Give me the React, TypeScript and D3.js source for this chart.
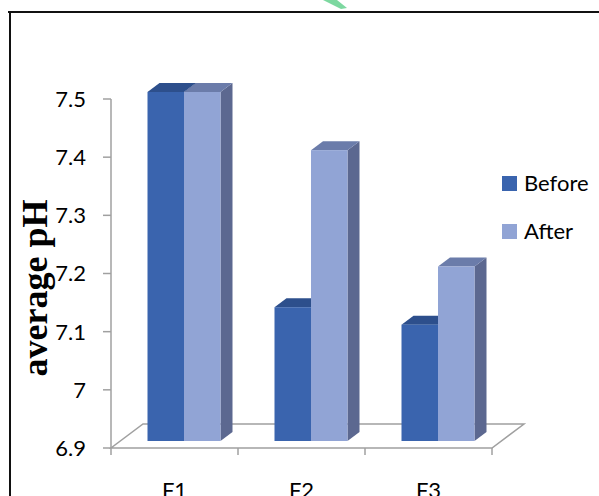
import React from 'react';
import * as d3 from 'd3';

// values
const categories = ['F1', 'F2', 'F3'];
const seriesNames = ['Before', 'After'];
const beforeValues = [7.5, 7.13, 7.1];
const afterValues = [7.5, 7.4, 7.2];
const yTickValues = [6.9, 7, 7.1, 7.2, 7.3, 7.4, 7.5];
const yTickLabels = ['6.9', '7', '7.1', '7.2', '7.3', '7.4', '7.5'];

const W = 599;
const H = 496;

// front plane of the 3D plot
const plot = { left: 111, right: 492, top: 99, bottom: 448 };
// floor depth (back edge offset)
const floorDepth = { dx: 32, dy: -24 };
// bars sit a bit behind the front edge
const barShift = { dx: 9.5, dy: -7 };
// the bar's own depth
const barDepth = { dx: 12, dy: -9 };
const barWidth = 36.5;

const colors = {
  before: { front: '#3A64AE', top: '#2D4F8C', side: '#2A4780' },
  after: { front: '#91A4D5', top: '#6B7CAA', side: '#5C6890' },
  axis: '#A0A0A0',
};

const font = 'Lato, "Open Sans", sans-serif';

const Bar: React.FC<{ x: number; yTop: number; yBot: number; c: { front: string; top: string; side: string } }> = ({ x, yTop, yBot, c }) => {
  const w = barWidth;
  const { dx, dy } = barDepth;
  const top = [[x, yTop], [x + dx, yTop + dy], [x + w + dx, yTop + dy], [x + w, yTop]];
  const side = [[x + w, yTop], [x + w + dx, yTop + dy], [x + w + dx, yBot + dy], [x + w, yBot]];
  const pts = (p: number[][]) => p.map(d => d.join(',')).join(' ');
  return (
    <g>
      <polygon points={pts(side)} fill={c.side} />
      <polygon points={pts(top)} fill={c.top} />
      <rect x={x} y={yTop} width={w} height={yBot - yTop} fill={c.front} />
    </g>
  );
};

const App: React.FC = () => {
  const x = d3.scaleBand<string>().domain(categories).range([plot.left, plot.right]);
  const y = d3.scaleLinear().domain([6.9, 7.5]).range([plot.bottom, plot.top]);
  const bw = x.bandwidth();

  const floor = [
    [plot.left, plot.bottom],
    [plot.right, plot.bottom],
    [plot.right + floorDepth.dx, plot.bottom + floorDepth.dy],
    [plot.left + floorDepth.dx, plot.bottom + floorDepth.dy],
  ];

  const xTicks = [...categories.map(c => x(c) as number), plot.right];

  return (
    <svg width={W} height={H} style={{ position: 'absolute', left: 0, top: 0, background: '#fff' }}>
      <rect x={0} y={0} width={W} height={H} fill="#fff" />

      {/* watermark fragment */}
      <polygon points="323,0 337,0 347,8 341,9" fill="#7DD8A0" />

      {/* frame */}
      <line x1={8} x2={W} y1={12} y2={12} stroke="#111" strokeWidth={2} />
      <line x1={10} x2={10} y1={11} y2={H} stroke="#111" strokeWidth={2} />

      {/* floor */}
      <polygon points={floor.map(d => d.join(',')).join(' ')} fill="none" stroke={colors.axis} strokeWidth={1.5} />

      {/* y axis */}
      <line x1={plot.left} x2={plot.left} y1={plot.top} y2={plot.bottom} stroke={colors.axis} strokeWidth={1.5} />
      {yTickValues.map((v, i) => (
        <g key={v}>
          <line x1={plot.left - 8} x2={plot.left} y1={y(v)} y2={y(v)} stroke={colors.axis} strokeWidth={1.5} />
          <text x={86} y={y(v)} dy="0.36em" textAnchor="end" fontFamily={font} fontSize={22} fill="#000">
            {yTickLabels[i]}
          </text>
        </g>
      ))}

      {/* x ticks */}
      {xTicks.map(t => (
        <line key={t} x1={t} x2={t} y1={plot.bottom} y2={plot.bottom + 7} stroke={colors.axis} strokeWidth={1.5} />
      ))}

      {/* bars */}
      {categories.map((cat, i) => {
        const cx = (x(cat) as number) + bw / 2 + barShift.dx;
        const gl = cx - barWidth;
        const yBot = plot.bottom + barShift.dy;
        return (
          <g key={cat}>
            <Bar x={gl} yTop={y(beforeValues[i]) + barShift.dy} yBot={yBot} c={colors.before} />
            <Bar x={gl + barWidth} yTop={y(afterValues[i]) + barShift.dy} yBot={yBot} c={colors.after} />
          </g>
        );
      })}

      {/* x labels (cut by the bottom edge, as in the source) */}
      {categories.map(cat => (
        <text key={cat} x={(x(cat) as number) + bw / 2} y={498} textAnchor="middle" fontFamily={font} fontSize={22} fill="#000">
          {cat}
        </text>
      ))}

      {/* y title */}
      <text
        transform="translate(47,288) rotate(-90)"
        textAnchor="middle"
        fontFamily='"Liberation Serif", "Times New Roman", serif'
        fontWeight="bold"
        fontSize={36}
        fill="#000"
      >
        average pH
      </text>

      {/* legend */}
      {seriesNames.map((name, i) => (
        <g key={name} transform={`translate(502, ${176 + i * 48})`}>
          <rect width={15} height={15} fill={i === 0 ? colors.before.front : colors.after.front} />
          <text x={22} y={15} fontFamily={font} fontSize={22} fill="#000">{name}</text>
        </g>
      ))}
    </svg>
  );
};

export default App;
